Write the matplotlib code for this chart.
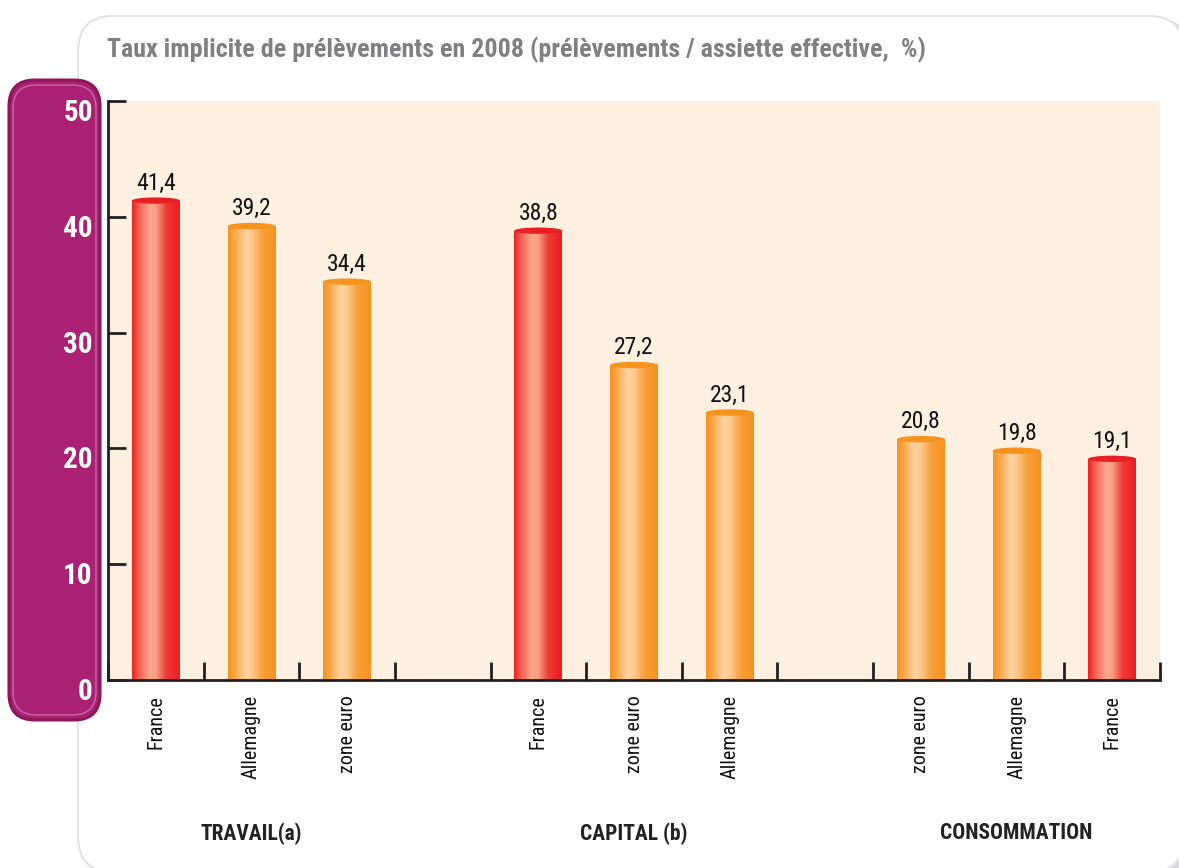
import matplotlib
matplotlib.use("Agg")
import matplotlib.pyplot as plt
import numpy as np
from matplotlib import font_manager
from matplotlib.patches import FancyBboxPatch, Ellipse
from matplotlib.colors import LinearSegmentedColormap
from matplotlib.transforms import ScaledTranslation

# ---------------- data ----------------
groups = ["TRAVAIL(a)", "CAPITAL (b)", "CONSOMMATION"]
categories = ["France", "Allemagne", "zone euro",
              "France", "zone euro", "Allemagne",
              "zone euro", "Allemagne", "France"]
group_of = [0, 0, 0, 1, 1, 1, 2, 2, 2]
values = [41.4, 39.2, 34.4, 38.8, 27.2, 23.1, 20.8, 19.8, 19.1]
value_labels = ["41,4", "39,2", "34,4", "38,8", "27,2", "23,1", "20,8", "19,8", "19,1"]
yticks = [0, 10, 20, 30, 40, 50]
title = "Taux implicite de prélèvements en 2008 (prélèvements / assiette effective,  %)"

# ---------------- fonts ----------------
names = {f.name for f in font_manager.fontManager.ttflist}
cond = None
for c in ["Liberation Sans Narrow", "DejaVu Sans Condensed", "Roboto Condensed", "Open Sans Condensed"]:
    if c in names:
        cond = c
        break
fam = [cond, "DejaVu Sans"] if cond else ["DejaVu Sans"]
plt.rcParams["font.family"] = fam

W, H = 1179, 868
fig = plt.figure(figsize=(W / 100, H / 100), dpi=100)
fig.patch.set_facecolor("white")

def fx(px):
    return px / W

def fy(py):
    return 1 - py / H

# white card with grey shadow
shadow = FancyBboxPatch((fx(80), fy(875)), fx(1110), fy(18) - fy(875),
                        boxstyle="round,pad=0,rounding_size=0.03",
                        transform=fig.transFigure, facecolor="#d9d9db",
                        edgecolor="none", zorder=0, mutation_aspect=W / H)
fig.patches.append(shadow)
card = FancyBboxPatch((fx(78), fy(872)), fx(1106), fy(16) - fy(872),
                      boxstyle="round,pad=0,rounding_size=0.03",
                      transform=fig.transFigure, facecolor="white",
                      edgecolor="#e4e4e6", linewidth=1.5, zorder=0.5,
                      mutation_aspect=W / H)
fig.patches.append(card)

# purple y-axis box
pbox = FancyBboxPatch((fx(9), fy(720)), fx(91), fy(80) - fy(720),
                      boxstyle="round,pad=0,rounding_size=0.022",
                      transform=fig.transFigure, facecolor="#ab2274",
                      edgecolor="#8c175c", linewidth=2.2, zorder=1,
                      mutation_aspect=W / H)
fig.patches.append(pbox)
pbox2 = FancyBboxPatch((fx(13), fy(715)), fx(83), fy(85) - fy(715),
                       boxstyle="round,pad=0,rounding_size=0.02",
                       transform=fig.transFigure, facecolor="none",
                       edgecolor="#c86aa0", linewidth=1.0, zorder=1.1,
                       mutation_aspect=W / H)
fig.patches.append(pbox2)

# ---------------- axes ----------------
ax = fig.add_axes([fx(108), fy(680), fx(1160) - fx(108), fy(101) - fy(680)])
ax.set_facecolor("#fdf0e1")
ax.set_zorder(2)

positions = [g * 4 + i % 3 for i, g in enumerate(group_of)]
bar_w = 0.5

red_cmap = LinearSegmentedColormap.from_list(
    "red", [(0, "#e8231f"), (0.12, "#f2574a"), (0.38, "#f9a98f"), (0.5, "#f8a084"),
            (0.72, "#ee3b35"), (1, "#ec1c24")])
org_cmap = LinearSegmentedColormap.from_list(
    "org", [(0, "#f7941d"), (0.12, "#f8a343"), (0.38, "#fdd4a2"), (0.5, "#fcc98e"),
            (0.72, "#f8a03a"), (1, "#f7921e")])
grad = np.linspace(0, 1, 256).reshape(1, -1)

bars = ax.bar(positions, values, width=bar_w, color="none", edgecolor="none", zorder=3)
for bar, cat, v, lab in zip(bars, categories, values, value_labels):
    cmap = red_cmap if cat == "France" else org_cmap
    x0 = bar.get_x()
    w = bar.get_width()
    im = ax.imshow(grad, cmap=cmap, extent=[x0, x0 + w, 0, v], aspect="auto",
                   zorder=3, interpolation="bicubic")
    im.set_clip_path(bar)
    cap_col = "#e81f25" if cat == "France" else "#f6921e"
    ax.add_patch(Ellipse((x0 + w / 2, v), w, 0.55, facecolor=cap_col,
                         edgecolor="none", zorder=4))
    ax.text(x0 + w / 2, v + 0.5, lab, ha="center", va="bottom",
            fontsize=17, color="#111111", zorder=5)

ax.set_xlim(-0.5, 10.5)
ax.set_ylim(0, 50)
ax.set_aspect("auto")

ax.spines["top"].set_visible(False)
ax.spines["right"].set_visible(False)
for s in ("left", "bottom"):
    ax.spines[s].set_linewidth(2)
    ax.spines[s].set_color("#231f20")
    ax.spines[s].set_zorder(6)

ax.set_xticks(positions)
ax.set_xticklabels(categories, rotation=90, fontsize=14.5, color="#111111", va="top")
ax.tick_params(axis="x", which="major", length=0, pad=11)
ax.set_xticks(np.arange(-0.5, 11, 1.0), minor=True)
ax.tick_params(axis="x", which="minor", direction="in", length=13, width=2, color="#231f20")

ax.set_yticks(yticks)
ax.set_yticklabels([str(t) for t in yticks], fontsize=21, fontweight="bold", color="white")
ax.tick_params(axis="y", direction="in", length=13, width=2, color="#231f20", pad=11)
shift = ScaledTranslation(0, -9 / 100, fig.dpi_scale_trans)
for lbl in ax.get_yticklabels():
    lbl.set_transform(lbl.get_transform() + shift)

# group labels
for g, name in enumerate(groups):
    ax.text(g * 4 + 1, -0.265, name, transform=ax.get_xaxis_transform(),
            ha="center", va="center", fontsize=15.5, fontweight="bold", color="#222222")

fig.text(fx(107), fy(50), title, ha="left", va="center", fontsize=18.7,
         fontweight="bold", color="#808083")

fig.savefig("out.png", dpi=100)
